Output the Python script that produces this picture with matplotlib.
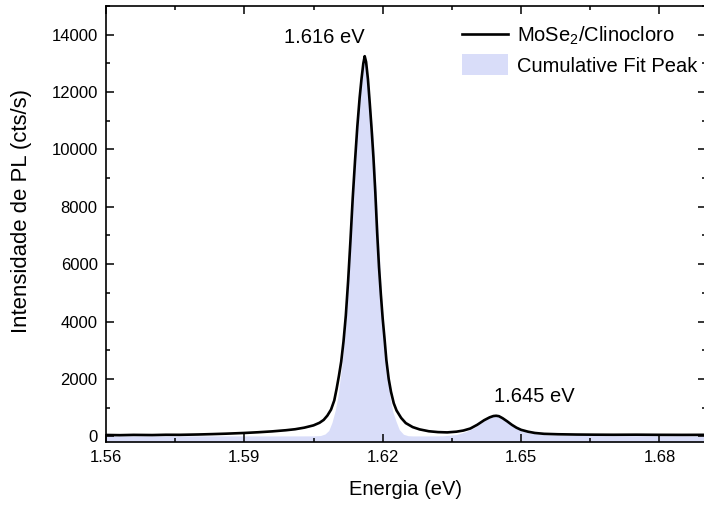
import matplotlib
matplotlib.use("Agg")
import matplotlib.pyplot as plt
from matplotlib.patches import Patch
from matplotlib.lines import Line2D
from matplotlib.ticker import MultipleLocator

plt.rcParams['font.family'] = ['Liberation Sans', 'DejaVu Sans']
plt.rcParams['mathtext.fontset'] = 'custom'
plt.rcParams['mathtext.rm'] = 'Liberation Sans'
plt.rcParams['mathtext.it'] = 'Liberation Sans:italic'

# Espectro de PL medido (energia em eV, intensidade em cts/s)
energia = [1.5600, 1.5630, 1.5660, 1.5700, 1.5730, 1.5760, 1.5800, 1.5830,
           1.5860, 1.5900, 1.5930, 1.5960, 1.5990, 1.6010, 1.6030, 1.6050,
           1.6063, 1.6072, 1.6080, 1.6088, 1.6095, 1.6100, 1.6105, 1.6110,
           1.6115, 1.6120, 1.6125, 1.6130, 1.6135, 1.6140, 1.6145, 1.6150,
           1.6154, 1.6158, 1.6161, 1.6164, 1.6168, 1.6172, 1.6176, 1.6180,
           1.6184, 1.6188, 1.6192, 1.6196, 1.6200, 1.6204, 1.6208, 1.6213,
           1.6218, 1.6224, 1.6230, 1.6240, 1.6250, 1.6265, 1.6280, 1.6300,
           1.6320, 1.6340, 1.6360, 1.6375, 1.6390, 1.6405, 1.6420, 1.6432,
           1.6440, 1.6446, 1.6452, 1.6460, 1.6470, 1.6480, 1.6490, 1.6500,
           1.6515, 1.6530, 1.6550, 1.6580, 1.6620, 1.6660, 1.6700, 1.6750,
           1.6800, 1.6850, 1.6900]
intensidade = [45, 38, 48, 42, 52, 50, 62, 75,
               90, 115, 140, 170, 210, 245, 300, 380,
               470, 570, 720, 930, 1250, 1650, 2100, 2600,
               3300, 4200, 5400, 6800, 8300, 9600, 10800, 11800,
               12450, 13000, 13250, 13050, 12450, 11600, 10700, 9700,
               8500, 7100, 5900, 4950, 4100, 3400, 2650, 2000,
               1550, 1150, 900, 640, 460, 320, 240, 175,
               145, 135, 160, 200, 270, 400, 560, 660,
               705, 715, 700, 630, 520, 400, 300, 225,
               160, 115, 85, 70, 60, 55, 52, 55,
               50, 48, 50]

# Soma dos picos ajustados
energia_fit = [1.5600, 1.5800, 1.6000, 1.6050, 1.6065, 1.6075, 1.6083, 1.6090,
               1.6097, 1.6103, 1.6112, 1.6122, 1.6131, 1.6142, 1.6152, 1.6160,
               1.6170, 1.6180, 1.6186, 1.6191, 1.6197, 1.6204, 1.6210, 1.6216,
               1.6222, 1.6229, 1.6236, 1.6245, 1.6255, 1.6265, 1.6300, 1.6330,
               1.6360, 1.6380, 1.6400, 1.6420, 1.6435, 1.6446, 1.6458, 1.6470,
               1.6485, 1.6500, 1.6520, 1.6550, 1.6600, 1.6700, 1.6900]
intensidade_fit = [12, 12, 12, 14, 25, 80, 200, 480,
                   900, 1400, 2550, 4400, 7100, 10300, 12300, 13200,
                   12100, 10300, 8500, 6900, 5000, 3300, 2200, 1350,
                   850, 520, 230, 70, 20, 12, 12, 15,
                   60, 160, 310, 540, 680, 710, 640, 510,
                   330, 200, 110, 55, 30, 20, 15]

rotulos = ['1.616 eV', '1.645 eV']
pos_rotulos = [(1.6074, 13900), (1.6528, 1380)]

fig = plt.figure(figsize=(7.04, 5.05), dpi=100)
ax = fig.add_axes([106 / 704, 63 / 505, 599.5 / 704, 436 / 505])

ax.fill_between(energia_fit, -200, intensidade_fit, color='#d9ddf9', lw=0,
                zorder=1)
ax.plot(energia, intensidade, color='black', lw=1.9, zorder=3,
        solid_joinstyle='round')

for txt, (xp, yp) in zip(rotulos, pos_rotulos):
    ax.text(xp, yp, txt, fontsize=14.5, ha='center', va='center')

ax.set_xlim(1.56, 1.69)
ax.set_ylim(-200, 15000)
ax.xaxis.set_major_locator(MultipleLocator(0.03))
ax.xaxis.set_minor_locator(MultipleLocator(0.015))
ax.yaxis.set_major_locator(MultipleLocator(2000))
ax.yaxis.set_minor_locator(MultipleLocator(1000))
ax.xaxis.set_major_formatter(plt.FuncFormatter(lambda v, p: f'{v:.2f}'))
ax.tick_params(which='both', direction='in', top=True, right=True,
               labelsize=12, width=1.1)
ax.tick_params(which='major', length=5.5, pad=6)
ax.tick_params(which='minor', length=3)
for s in ax.spines.values():
    s.set_linewidth(1.2)

ax.set_xlabel('Energia (eV)', fontsize=14.5, labelpad=10.5)
ax.set_ylabel('Intensidade de PL (cts/s)', fontsize=15.9)
ax.yaxis.set_label_coords(-0.123, 0.529)

handles = [Line2D([], [], color='black', lw=1.9),
           Patch(facecolor='#d9ddf9', edgecolor='none')]
ax.legend(handles, ['MoSe$_2$/Clinocloro', 'Cumulative Fit Peak'],
          loc='upper left', bbox_to_anchor=(462 / 704, 1 - 25 / 505),
          bbox_transform=fig.transFigure, frameon=False, fontsize=14.5,
          handlelength=2.3, handleheight=1.2, handletextpad=0.45,
          labelspacing=0.35, borderpad=0, borderaxespad=0)

fig.savefig('out.png', dpi=100)
